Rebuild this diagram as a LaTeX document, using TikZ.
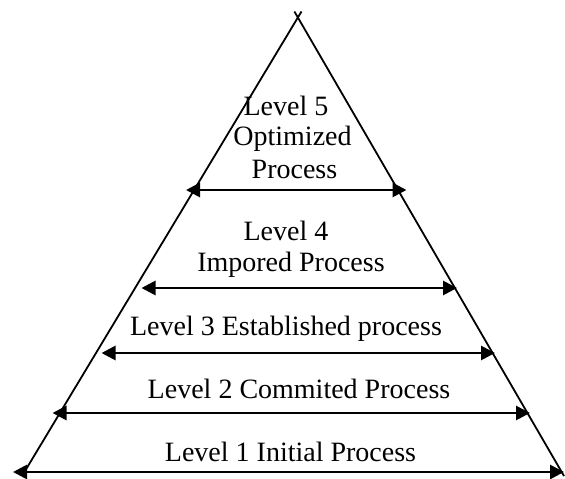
\documentclass[tikz,border=0pt]{standalone}
\usepackage{fontspec}
\setmainfont{Liberation Serif}
\usetikzlibrary{arrows.meta}
\begin{document}
\begin{tikzpicture}[x=1pt,y=-1pt,
  side/.style={line width=1.8pt},
  span/.style={line width=2.8pt,{Triangle[length=14pt,width=14pt]}-{Triangle[length=14pt,width=14pt]}},
  lbl/.style={anchor=base,inner sep=0pt,font=\fontsize{28}{33}\selectfont}]
\useasboundingbox (0,0) rectangle (565,479);
% triangle sides (crossing slightly above the apex)
\coordinate (ltop) at (301.5,11.5);
\coordinate (lbot) at (25,471);
\coordinate (rtop) at (294.4,11.5);
\coordinate (rbot) at (564,476);
\draw[side] (lbot) -- (ltop);
\draw[side] (rtop) -- (rbot);
% level arrows
\coordinate (a5l) at (186,190);   \coordinate (a5r) at (406.5,190);
\coordinate (a4l) at (141.5,288); \coordinate (a4r) at (457,288);
\coordinate (a3l) at (101.5,353); \coordinate (a3r) at (495,353);
\coordinate (a2l) at (52.5,413);  \coordinate (a2r) at (530,413);
\coordinate (a1l) at (13,472);    \coordinate (a1r) at (564,472);
\draw[span] (a5l) -- (a5r);
\draw[span] (a4l) -- (a4r);
\draw[span] (a3l) -- (a3r);
\draw[span] (a2l) -- (a2r);
\draw[span] (a1l) -- (a1r);
% labels
\node[lbl] (t5a) at (286,115.5) {Level 5};
\node[lbl] (t5b) at (292.5,145) {Optimized};
\node[lbl] (t5c) at (294.5,178.3) {Process};
\node[lbl] (t4a) at (286,240.7) {Level 4};
\node[lbl] (t4b) at (291,271.7) {Impored Process};
\node[lbl] (t3) at (286,335) {Level 3 Established process};
\node[lbl] (t2) at (299,398.3) {Level 2 Commited Process};
\node[lbl] (t1) at (290.5,461.7) {Level 1 Initial Process};
\end{tikzpicture}
\end{document}
